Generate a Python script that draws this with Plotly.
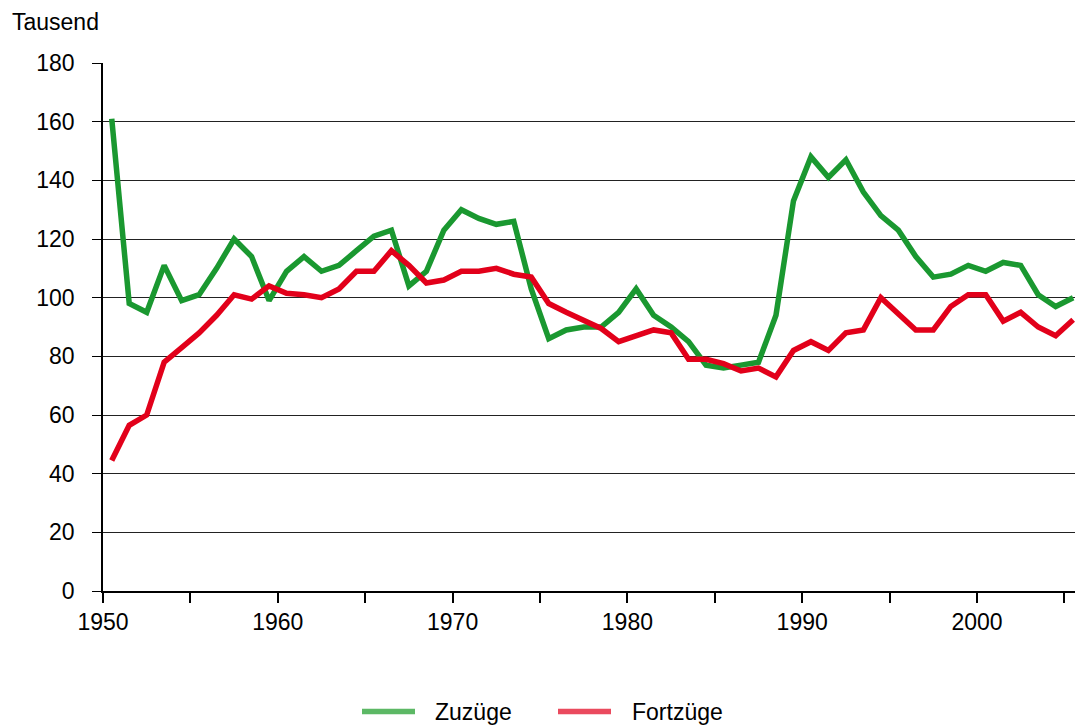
import plotly.graph_objects as go

years = list(range(1950, 2006))
zuzuege = [161, 98, 95, 111, 99, 101, 110, 120, 114, 99,
           109, 114, 109, 111, 116, 121, 123, 104, 109, 123,
           130, 127, 125, 126, 103, 86, 89, 90, 90, 95,
           103, 94, 90, 85, 77, 76, 77, 78, 94, 133,
           148, 141, 147, 136, 128, 123, 114, 107, 108, 111,
           109, 112, 111, 101, 97, 100]
fortzuege = [44.5, 56.5, 60, 78, 83, 88, 94, 101, 99.5, 104,
             101.5, 101, 100, 103, 109, 109, 116, 111, 105, 106,
             109, 109, 110, 108, 107, 98, 95, 92, 89.5, 85,
             87, 89, 88, 79, 79, 77.5, 75, 76, 73, 82,
             85, 82, 88, 89, 100, 94.5, 89, 89, 97, 101,
             101, 92, 95, 90, 87, 92.5]
series_names = ["Zuzüge", "Fortzüge"]
tick_years = list(range(1950, 2006, 5))
tick_labels = [str(y) if y % 10 == 0 else "" for y in tick_years]
y_ticks = list(range(0, 181, 20))

GREEN = "#1a9830"
RED = "#e2001a"
GREEN_LEG = "#5cb865"
RED_LEG = "#ea4a5e"
FONT = "Liberation Sans, Arial, sans-serif"
FS = 23

W, H = 1075, 726
ML, MR, MT, MB = 103, 0, 63, 135
PW = W - ML - MR
PH = H - MT - MB
px_per_year = 17.48
x0 = 1950
x1 = x0 + PW / px_per_year

# categories are centered between ticks
xs = [y + 0.5 for y in years]

fig = go.Figure()
fig.add_trace(go.Scatter(x=xs, y=zuzuege, mode="lines", name=series_names[0],
                         line=dict(color=GREEN, width=5.5), showlegend=False))
fig.add_trace(go.Scatter(x=xs, y=fortzuege, mode="lines", name=series_names[1],
                         line=dict(color=RED, width=5.5), showlegend=False))

def px_to_paper_x(px):
    return (px - ML) / PW

def py_to_paper_y(py):
    return (H - MB - py) / PH

# manual legend
leg_y = py_to_paper_y(711.5)
legend_items = [(362, 415, 433, series_names[0], GREEN_LEG),
                (558, 611, 630, series_names[1], RED_LEG)]
shapes = []
annotations = []
for xa, xb, xt, label, col in legend_items:
    shapes.append(dict(type="line", xref="paper", yref="paper",
                       x0=px_to_paper_x(xa), x1=px_to_paper_x(xb), y0=leg_y, y1=leg_y,
                       line=dict(color=col, width=5.5)))
    annotations.append(dict(text=label, xref="paper", yref="paper",
                            x=px_to_paper_x(xt), y=leg_y, xanchor="left", yanchor="middle",
                            showarrow=False, font=dict(family=FONT, size=FS, color="#000")))

annotations.append(dict(text="Tausend", xref="paper", yref="paper",
                        x=px_to_paper_x(10), y=py_to_paper_y(22), xanchor="left", yanchor="middle",
                        showarrow=False, font=dict(family=FONT, size=FS, color="#000")))

fig.update_layout(
    width=W, height=H,
    margin=dict(l=ML, r=MR, t=MT, b=MB, pad=0),
    paper_bgcolor="white", plot_bgcolor="white",
    font=dict(family=FONT, size=FS, color="#000"),
    showlegend=False,
    shapes=shapes,
    annotations=annotations,
    xaxis=dict(range=[x0, x1], tickmode="array", tickvals=tick_years, ticktext=tick_labels,
               showgrid=False, zeroline=False, showline=True, linecolor="#000", linewidth=1.5,
               ticks="outside", ticklen=10, tickwidth=1.5, tickcolor="#000",
               tickfont=dict(family=FONT, size=FS, color="#000")),
    yaxis=dict(range=[0, 180], tickmode="array", tickvals=y_ticks,
               showgrid=True, gridcolor="#222", gridwidth=1.4,
               zeroline=False, showline=True, linecolor="#000", linewidth=1.5,
               ticks="outside", ticklen=9, tickwidth=1.4, tickcolor="#000",
               ticklabelstandoff=13,
               tickfont=dict(family=FONT, size=FS, color="#000")),
)

fig.write_html("out.html", config={"displayModeBar": False},
               post_script="document.body.style.margin='0';document.body.style.overflow='hidden';")
